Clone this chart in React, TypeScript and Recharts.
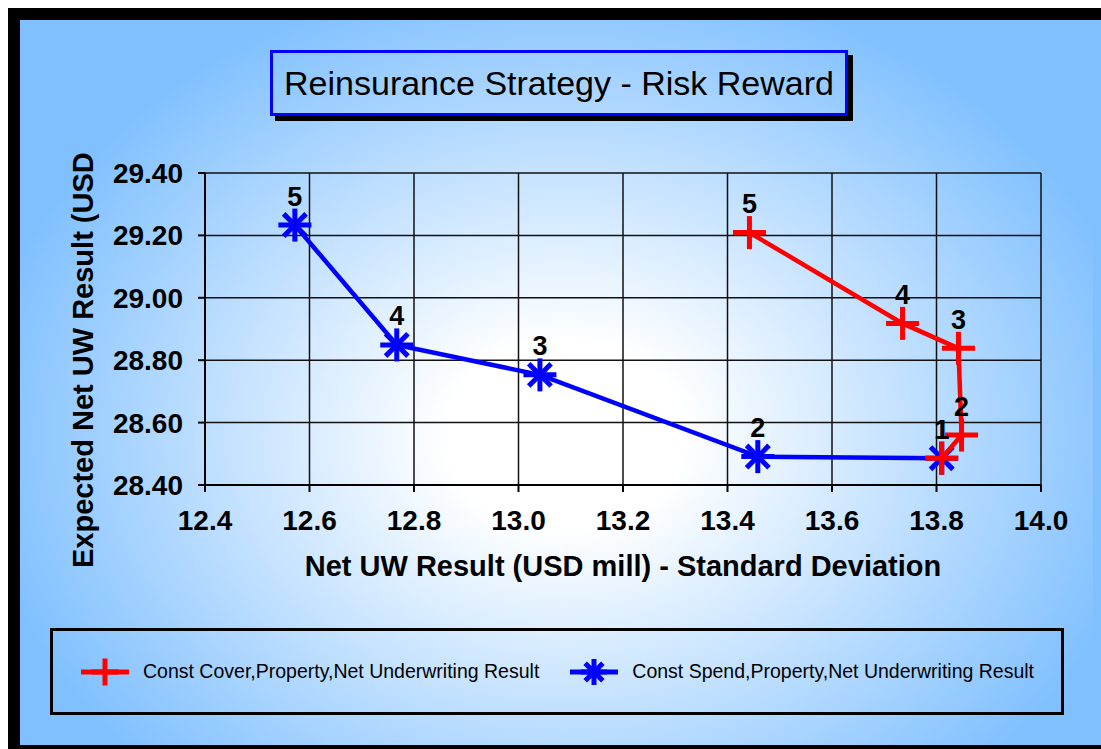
import React from "react";
import {
    ScatterChart,
    Scatter,
    XAxis,
    YAxis,
    CartesianGrid,
    LabelList,
    Legend,
    Label,
} from "recharts";

// risk / reward per reinsurance option (1..5)
const pointLabels = ["1", "2", "3", "4", "5"];
const coverStdDev = [13.81, 13.848, 13.842, 13.735, 13.442];
const coverExpected = [28.486, 28.56, 28.838, 28.918, 29.209];
const spendStdDev = [13.81, 13.458, 13.041, 12.767, 12.572];
const spendExpected = [28.486, 28.491, 28.753, 28.849, 29.233];

const xTicks = [12.4, 12.6, 12.8, 13.0, 13.2, 13.4, 13.6, 13.8, 14.0];
const yTicks = [28.4, 28.6, 28.8, 29.0, 29.2, 29.4];

const coverName = "Const Cover,Property,Net Underwriting Result";
const spendName = "Const Spend,Property,Net Underwriting Result";
const legendOrder = [coverName, spendName];

const RED = "#ff0000";
const BLUE = "#0000ff";
const FONT = "Arial, 'Liberation Sans', Helvetica, sans-serif";

const coverData = pointLabels.map((label, i) => ({ label, x: coverStdDev[i], y: coverExpected[i] }));
const spendData = pointLabels.map((label, i) => ({ label, x: spendStdDev[i], y: spendExpected[i] }));

const CHART_W = 1081;
const CHART_H = 725;

// page background: the frame continues past the right edge of the body
const pageCss =
    "html,body{overflow:hidden}" +
    "html{background:" +
    "linear-gradient(#fff,#fff) 0 0/8px 749px no-repeat," +
    "linear-gradient(#fff 0 8px,#000 8px 20px,#80c0ff 20px 745px,#000 745px 749px) 0 0/10px 749px repeat-x," +
    "#fff}";

function PlusMarker({ cx, cy, r = 16.5, w = 5 }: any) {
    if (cx == null || cy == null) return null;
    return (
        <g>
            <line x1={cx - r} y1={cy} x2={cx + r} y2={cy} stroke={RED} strokeWidth={w} />
            <line x1={cx} y1={cy - r} x2={cx} y2={cy + r} stroke={RED} strokeWidth={w} />
        </g>
    );
}

function StarMarker({ cx, cy, r = 16.5, w = 5 }: any) {
    if (cx == null || cy == null) return null;
    const d = r * 0.68;
    return (
        <g stroke={BLUE} strokeWidth={w}>
            <line x1={cx - r} y1={cy} x2={cx + r} y2={cy} />
            <line x1={cx} y1={cy - r} x2={cx} y2={cy + r} />
            <line x1={cx - d} y1={cy - d} x2={cx + d} y2={cy + d} />
            <line x1={cx - d} y1={cy + d} x2={cx + d} y2={cy - d} />
        </g>
    );
}

const LegendBox = (props: any) => {
    const items = [...(props.payload ?? [])].sort(
        (a: any, b: any) => legendOrder.indexOf(a.value) - legendOrder.indexOf(b.value)
    );
    return (
        <div
            style={{
                boxSizing: "border-box",
                width: "100%",
                height: "100%",
                border: "3px solid #000",
                display: "flex",
                alignItems: "center",
                paddingLeft: 28,
                fontFamily: FONT,
                fontSize: 19.5,
                color: "#000",
            }}
        >
            {items.map((item: any, i: number) => (
                <div key={i} style={{ display: "flex", alignItems: "center", marginRight: 31 }}>
                    <svg width={48} height={30}>
                        <line x1={0} y1={15} x2={48} y2={15} stroke={item.color} strokeWidth={5} />
                        {item.value === coverName ? (
                            <PlusMarker cx={24} cy={15} r={13.5} w={5} />
                        ) : (
                            <StarMarker cx={24} cy={15} r={13} w={5} />
                        )}
                    </svg>
                    <span style={{ marginLeft: 14, whiteSpace: "nowrap" }}>{item.value}</span>
                </div>
            ))}
        </div>
    );
};

const labelStyle = { fontFamily: FONT, fontSize: 27, fontWeight: 700, fill: "#000" };

export default function App() {
    return (
        <div
            style={{
                position: "relative",
                boxSizing: "border-box",
                width: 1093,
                height: 741,
                borderTop: "12px solid #000",
                borderLeft: "12px solid #000",
                borderBottom: "4px solid #000",
                background:
                    "radial-gradient(ellipse 590px 470px at 545px 415px, #ffffff 0%, #ffffff 20%, #80c0ff 100%)",
                overflow: "hidden",
            }}
        >
            <style>{pageCss}</style>
            <div
                style={{
                    position: "absolute",
                    left: 250,
                    top: 30,
                    width: 578,
                    height: 66,
                    boxSizing: "border-box",
                    border: "3px solid #0000ff",
                    boxShadow: "5px 5px 0 #000",
                    display: "flex",
                    alignItems: "center",
                    justifyContent: "center",
                    fontFamily: FONT,
                    fontSize: 34,
                    color: "#000",
                    zIndex: 2,
                }}
            >
                Reinsurance Strategy - Risk Reward
            </div>
            <div style={{ position: "absolute", left: 0, top: 0 }}>
                <ScatterChart
                    width={CHART_W}
                    height={CHART_H}
                    margin={{ top: 153, right: 60, bottom: 200, left: 75 }}
                >
                    <CartesianGrid stroke="#111" strokeWidth={1.5} />
                    <XAxis
                        type="number"
                        dataKey="x"
                        domain={[12.4, 14.0]}
                        ticks={xTicks}
                        interval={0}
                        height={60}
                        tickSize={7}
                        tickMargin={18}
                        tickFormatter={(v: number) => v.toFixed(1)}
                        axisLine={{ stroke: "#000", strokeWidth: 2 }}
                        tickLine={{ stroke: "#000", strokeWidth: 2 }}
                        tick={{ fill: "#000", fontFamily: FONT, fontSize: 28, fontWeight: 700 }}
                    >
                        <Label
                            content={(p: any) => {
                                const vb = p.viewBox;
                                return (
                                    <text
                                        x={vb.x + vb.width / 2}
                                        y={vb.y + 91}
                                        textAnchor="middle"
                                        fontFamily={FONT}
                                        fontSize={29}
                                        fontWeight={700}
                                        fill="#000"
                                    >
                                        Net UW Result (USD mill) - Standard Deviation
                                    </text>
                                );
                            }}
                        />
                    </XAxis>
                    <YAxis
                        type="number"
                        dataKey="y"
                        domain={[28.4, 29.4]}
                        ticks={yTicks}
                        interval={0}
                        width={110}
                        tickSize={7}
                        tickMargin={15}
                        tickFormatter={(v: number) => v.toFixed(2)}
                        axisLine={{ stroke: "#000", strokeWidth: 2 }}
                        tickLine={{ stroke: "#000", strokeWidth: 2 }}
                        tick={{ fill: "#000", fontFamily: FONT, fontSize: 28, fontWeight: 700 }}
                    >
                        <Label
                            content={(p: any) => {
                                const vb = p.viewBox;
                                const x = vb.x - 2;
                                const y = vb.y + vb.height + 83;
                                return (
                                    <text
                                        x={x}
                                        y={y}
                                        transform={`rotate(-90 ${x} ${y})`}
                                        textAnchor="start"
                                        fontFamily={FONT}
                                        fontSize={29}
                                        fontWeight={700}
                                        fill="#000"
                                    >
                                        Expected Net UW Result (USD
                                    </text>
                                );
                            }}
                        />
                    </YAxis>
                    <Legend
                        layout="horizontal"
                        verticalAlign="middle"
                        align="center"
                        content={<LegendBox />}
                        wrapperStyle={{ left: 30, top: 608, width: 1014, height: 87 }}
                    />
                    <Scatter
                        name={spendName}
                        data={spendData}
                        fill={BLUE}
                        line={{ stroke: BLUE, strokeWidth: 4.5 }}
                        lineType="joint"
                        shape={<StarMarker />}
                        isAnimationActive={false}
                    >
                        <LabelList dataKey="label" position="top" offset={15} style={labelStyle} />
                    </Scatter>
                    <Scatter
                        name={coverName}
                        data={coverData}
                        fill={RED}
                        line={{ stroke: RED, strokeWidth: 4.5 }}
                        lineType="joint"
                        shape={<PlusMarker />}
                        isAnimationActive={false}
                    >
                        <LabelList dataKey="label" position="top" offset={15} style={labelStyle} />
                    </Scatter>
                </ScatterChart>
            </div>
        </div>
    );
}
